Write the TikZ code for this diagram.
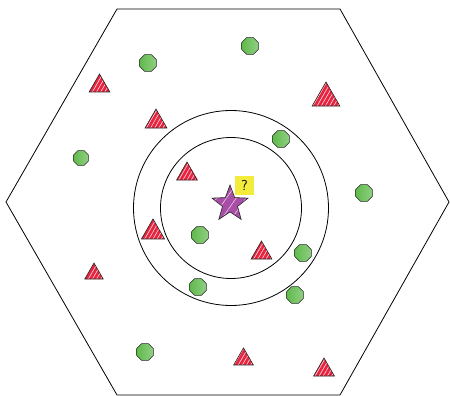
\documentclass[tikz,border=0pt]{standalone}
\usepackage{tikz}
\usetikzlibrary{shapes.geometric,patterns.meta}
\definecolor{ptgreen}{RGB}{96,186,76}
\definecolor{ptred}{RGB}{232,36,64}
\definecolor{ptpurple}{RGB}{168,78,166}
\definecolor{ptyellow}{RGB}{244,236,60}

\begin{document}
\begin{tikzpicture}[x=1pt,y=-1pt,
    green pt/.style={regular polygon,regular polygon sides=8,draw=black!85,line width=0.6pt,
        left color=ptgreen,right color=ptgreen!70!white,inner sep=0pt,outer sep=0pt,minimum size=#1},
    green pt/.default=18,
    red pt/.style={regular polygon,regular polygon sides=3,draw=black!85,line width=0.6pt,
        preaction={fill=ptred},pattern={Lines[angle=60,distance=3.6pt,line width=0.6pt]},
        pattern color=white!85!ptred,inner sep=0pt,outer sep=0pt,minimum size=#1},
    red pt/.default=24]
    \useasboundingbox (0,0) rectangle (450,396);
    % Region boundary
    \draw[line width=0.8pt] (117,9) -- (340,9) -- (449,202) -- (340,395) -- (117,395) -- (6,202) -- cycle;

    % Neighbourhood circles around the query
    \node[circle,draw,line width=0.8pt,minimum size=195,inner sep=0pt] (outer) at (231,208) {};
    \node[circle,draw,line width=0.8pt,minimum size=141,inner sep=0pt] (inner) at (231,208) {};

    % Green points
    \node[green pt] (g1) at (250,46) {};
    \node[green pt] (g2) at (148,63) {};
    \node[green pt=16] (g3) at (81,158) {};
    \node[green pt] (g4) at (281,139) {};
    \node[green pt] (g5) at (364,193) {};
    \node[green pt] (g6) at (200,235) {};
    \node[green pt] (g7) at (303,253) {};
    \node[green pt] (g8) at (198,287) {};
    \node[green pt] (g9) at (295,295) {};
    \node[green pt] (g10) at (145,352) {};

    % Red points
    \node[red pt] (r1) at (99.5,86) {};
    \node[red pt=25.3] (r2) at (156,121.7) {};
    \node[red pt=32] (r3) at (326,98) {};
    \node[red pt] (r4) at (187,174) {};
    \node[red pt=26.7] (r5) at (153,232.3) {};
    \node[red pt] (r6) at (261.5,253) {};
    \node[red pt=21.3] (r7) at (94,273.7) {};
    \node[red pt=22.7] (r8) at (243.5,359.3) {};
    \node[red pt] (r9) at (324,370) {};

    % Query point
    \node[star,star points=5,star point ratio=2.4,draw=black!85,line width=0.6pt,
        preaction={fill=ptpurple},pattern={Lines[angle=55,distance=8pt,line width=0.6pt]},
        pattern color=white!70!ptpurple,minimum size=38,inner sep=0pt] (query) at (230,204) {};
    \node[fill=ptyellow,minimum size=19,inner sep=0pt,font=\sffamily\Large] (label) at (244.5,185.5) {?};
\end{tikzpicture}
\end{document}
